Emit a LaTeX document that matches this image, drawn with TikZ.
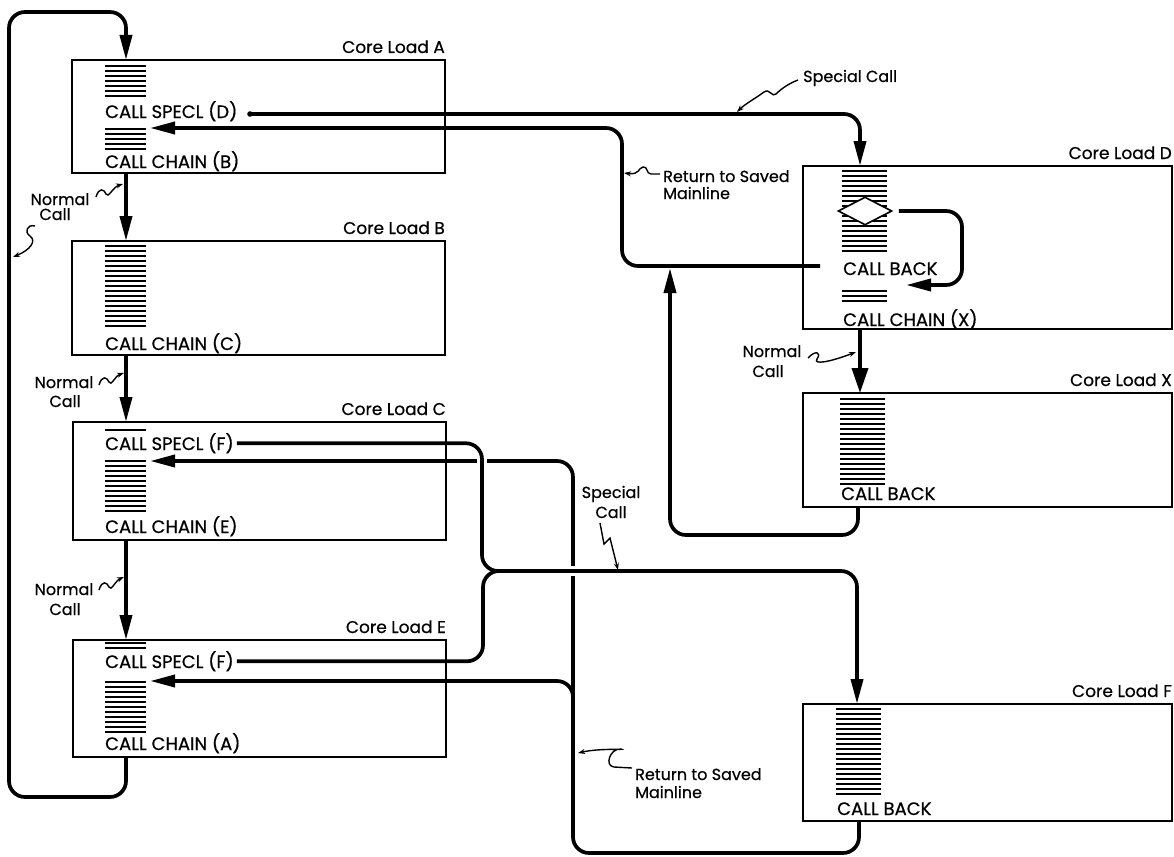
\documentclass[tikz,border=0pt]{standalone}
\usepackage{fontspec}
\setmainfont{Poppins}[FakeBold=0.6]
\usetikzlibrary{arrows.meta,shapes.geometric}
\newcommand\bstack[4]{\foreach \i in {1,...,#4}{\draw[line width=2.4pt] (#1,{#2+(\i-1)*5}) -- ++(#3,0);}}
\begin{document}
\begin{tikzpicture}[x=1pt,y=-1pt,
 box/.style={draw, line width=1.6pt, inner sep=0pt, outer sep=0pt, anchor=north west},
 conn/.style={line width=3.7pt, rounded corners=16pt},
 arr/.style={-{Triangle[length=25pt,width=12pt]}},
 txt/.style={font=\fontsize{18}{20}\selectfont, inner sep=0pt, anchor=base west},
 cl/.style={font=\fontsize{17}{20}\selectfont, inner sep=0pt, anchor=base east},
 note/.style={font=\fontsize{16}{18}\selectfont, inner sep=0pt, anchor=base},
 notel/.style={font=\fontsize{16}{18}\selectfont, inner sep=0pt, anchor=base west},
 sq/.style={line width=1.4pt, -{Stealth[length=7pt,width=5pt]}},
]
\useasboundingbox (0,0) rectangle (1174,856);
% boxes
\node[box, minimum width=373pt, minimum height=113pt] (A) at (72,60) {};
\node[box, minimum width=373pt, minimum height=114pt] (B) at (72,241) {};
\node[box, minimum width=373pt, minimum height=118pt] (C) at (73,422) {};
\node[box, minimum width=373pt, minimum height=117pt] (E) at (73,640) {};
\node[box, minimum width=369pt, minimum height=163pt] (D) at (803,166) {};
\node[box, minimum width=369pt, minimum height=114pt] (X) at (803,393) {};
\node[box, minimum width=369pt, minimum height=117pt] (F) at (803,704) {};
\foreach \b in {A,B,C,E,D,X,F}
  \node[cl] (lbl\b) at ([yshift=7pt]\b.north east) {Core Load \b};
% instruction bars
\bstack{105}{66}{41}{7}
\bstack{105}{129}{41}{5}
\bstack{105}{246}{41}{17}
\bstack{105}{430}{41}{1}
\bstack{105}{461}{41}{11}
\bstack{105}{643}{41}{2}
\bstack{105}{682}{41}{11}
\bstack{842}{171}{45}{17}
\bstack{842}{291}{45}{3}
\bstack{840}{399}{45}{18}
\bstack{836}{709}{45}{18}
\node[diamond, draw, fill=white, minimum width=54pt, minimum height=28pt, inner sep=0pt, line width=1.6pt] (dia) at (865,211) {};
% texts
\node[txt] (aspec) at (105,118) {CALL SPECL (D)};
\node[txt] (achain) at (105,168) {CALL CHAIN (B)};
\node[txt] (bchain) at (105,350) {CALL CHAIN (C)};
\node[txt] (cspec) at (105,450) {CALL SPECL (F)};
\node[txt] (cchain) at (105,533) {CALL CHAIN (E)};
\node[txt] (espec) at (105,668) {CALL SPECL (F)};
\node[txt] (echain) at (105,750) {CALL CHAIN (A)};
\node[txt] (dback) at (843,275) {CALL BACK};
\node[txt] (dchain) at (843,326) {CALL CHAIN (X)};
\node[txt] (xback) at (841,500) {CALL BACK};
\node[txt] (fback) at (837,815) {CALL BACK};
% coordinates
\coordinate (colL) at (126,0);
\coordinate (dotA) at (250,114);
\coordinate (dIn) at (860,166);
\coordinate (aRet) at (150,128);
\coordinate (dOut) at (820,266);
\coordinate (loopS) at ([xshift=6pt]dia.east);
\coordinate (loopE) at (906,285);
\coordinate (dBot) at (860,329);
\coordinate (xIn) at (860,393);
\coordinate (xOut) at (858,507);
\coordinate (xRet) at (670,268);
\coordinate (cSp) at ([xshift=3pt]cspec.east);
\coordinate (eSp) at ([xshift=3pt]espec.east);
\coordinate (fIn) at (857,704);
\coordinate (fOut) at (859,821);
\coordinate (cRet) at (150,461);
\coordinate (eRet) at (150,681);
% connectors
\draw[conn,arr] (dotA) -| (dIn);
\fill (dotA) circle (2.8pt);
\draw[conn,arr] (dOut) -| (622,128) -- (aRet);
\draw[conn,arr] (loopS) -| (962,250) |- (loopE);
\draw[conn,-{Triangle[length=25pt,width=16pt]}] (dBot) -- (xIn);
\draw[conn,arr] (xOut) -- (858,535) -| (xRet);
\draw[conn,arr] (fOut) -- (859,853) -| (573,500) |- (cRet);
\draw[conn,arr] (573,720) |- (eRet);
\draw[white, line width=10pt] (482,453) -- (482,469);
\draw[white, line width=10pt] (563,571) -- (583,571);
\draw[conn,arr] (cSp) -| (482,571) -| (fIn);
\draw[conn] (eSp) -| (483,571) -- (540,571);
\draw[conn,arr] (E.south -| colL) -- ++(0,40) -| (9,12) -| (A.north -| colL);
\draw[conn,arr] (A.south -| colL) -- (B.north -| colL);
\draw[conn,arr] (B.south -| colL) -- (C.north -| colL);
\draw[conn,arr] (C.south -| colL) -- (E.north -| colL);
% notes
\node[note] (n1a) at (60,205) {Normal}; \node[note] (n1b) at (55,220) {Call};
\node[note] (n2a) at (64,388) {Normal}; \node[note] (n2b) at (65,407) {Call};
\node[note] (n3a) at (64,595) {Normal}; \node[note] (n3b) at (65,615) {Call};
\node[note] (n4a) at (772,357) {Normal}; \node[note] (n4b) at (768,377) {Call};
\node[notel] (sp1) at (803,82) {Special Call};
\node[note] (sp2a) at (611,498) {Special}; \node[note] (sp2b) at (611,518) {Call};
\node[notel] (rt1a) at (663,182) {Return to Saved}; \node[notel] (rt1b) at (663,199) {Mainline};
\node[notel] (rt2a) at (635,780) {Return to Saved}; \node[notel] (rt2b) at (635,798) {Mainline};
% squiggle pointers
\draw[sq] (96,197) .. controls (99,187) and (104,189) .. (106,194) .. controls (108,199) and (113,187) .. (123,184);
\draw[sq] (35,226) .. controls (27,224) and (24,232) .. (30,236) .. controls (37,241) and (30,250) .. (13,257);
\draw[sq] (99,385) .. controls (102,375) and (107,377) .. (109,382) .. controls (111,387) and (115,376) .. (124,373);
\draw[sq] (99,590) .. controls (102,580) and (107,582) .. (109,587) .. controls (111,592) and (115,581) .. (124,577);
\draw[sq] (808,358) .. controls (815,350) and (822,352) .. (817,359) .. controls (813,365) and (830,362) .. (856,352);
\draw[sq] (798,80) .. controls (790,83) and (782,88) .. (776,94) .. controls (772,98) and (770,88) .. (764,92) .. controls (756,98) and (745,104) .. (737,112);
\draw[sq] (600,523) -- (604,544) -- (610,538) -- (618,570);
\draw[sq] (660,174) -- (651,174) .. controls (646,174) and (648,166) .. (643,167) .. controls (638,168) and (640,175) .. (624,173);
\draw[sq] (632,768) -- (614,767) .. controls (604,766) and (610,748) .. (621,749) .. controls (626,750) and (600,748) .. (578,753);
\end{tikzpicture}
\end{document}
